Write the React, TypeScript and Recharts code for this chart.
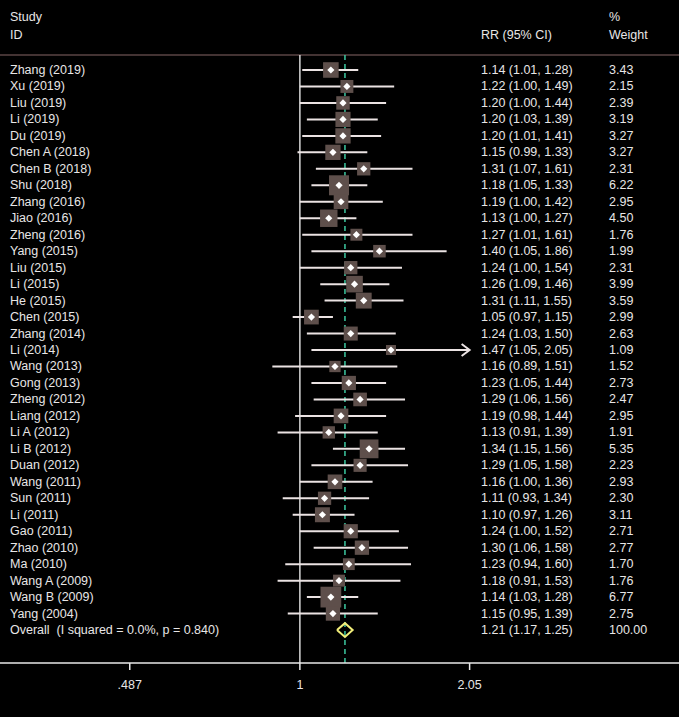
import React from "react";
import { ComposedChart, Scatter, XAxis, YAxis, ReferenceLine, ErrorBar } from "recharts";

const studies = [
  "Zhang (2019)", "Xu (2019)", "Liu (2019)", "Li (2019)", "Du (2019)", "Chen A (2018)",
  "Chen B (2018)", "Shu (2018)", "Zhang (2016)", "Jiao (2016)", "Zheng (2016)", "Yang (2015)",
  "Liu (2015)", "Li (2015)", "He (2015)", "Chen (2015)", "Zhang (2014)", "Li (2014)",
  "Wang (2013)", "Gong (2013)", "Zheng (2012)", "Liang (2012)", "Li A (2012)", "Li B (2012)",
  "Duan (2012)", "Wang (2011)", "Sun (2011)", "Li (2011)", "Gao (2011)", "Zhao (2010)",
  "Ma (2010)", "Wang A (2009)", "Wang B (2009)", "Yang (2004)",
];
const rr = [
  1.14, 1.22, 1.2, 1.2, 1.2, 1.15, 1.31, 1.18, 1.19, 1.13, 1.27, 1.4, 1.24, 1.26, 1.31, 1.05, 1.24,
  1.47, 1.16, 1.23, 1.29, 1.19, 1.13, 1.34, 1.29, 1.16, 1.11, 1.1, 1.24, 1.3, 1.23, 1.18, 1.14, 1.15,
];
const lower = [
  1.01, 1.0, 1.0, 1.03, 1.01, 0.99, 1.07, 1.05, 1.0, 1.0, 1.01, 1.05, 1.0, 1.09, 1.11, 0.97, 1.03,
  1.05, 0.89, 1.05, 1.06, 0.98, 0.91, 1.15, 1.05, 1.0, 0.93, 0.97, 1.0, 1.06, 0.94, 0.91, 1.03, 0.95,
];
const upper = [
  1.28, 1.49, 1.44, 1.39, 1.41, 1.33, 1.61, 1.33, 1.42, 1.27, 1.61, 1.86, 1.54, 1.46, 1.55, 1.15, 1.5,
  2.05, 1.51, 1.44, 1.56, 1.44, 1.39, 1.56, 1.58, 1.36, 1.34, 1.26, 1.52, 1.58, 1.6, 1.53, 1.28, 1.39,
];
const weights = [
  3.43, 2.15, 2.39, 3.19, 3.27, 3.27, 2.31, 6.22, 2.95, 4.5, 1.76, 1.99, 2.31, 3.99, 3.59, 2.99, 2.63,
  1.09, 1.52, 2.73, 2.47, 2.95, 1.91, 5.35, 2.23, 2.93, 2.3, 3.11, 2.71, 2.77, 1.7, 1.76, 6.77, 2.75,
];
const overall = { name: "Overall  (I squared = 0.0%, p = 0.840)", rr: 1.21, lo: 1.17, hi: 1.25, w: 100 };
const xTicks = [0.487, 1, 2.05];

const X_MIN = 0.2813;
const X_MAX = 4.97;
const Y_MIN = -0.91;
const Y_MAX = 36.0;
const TEXT = "#e8e6e6";
const FONT = "'Liberation Sans', Arial, sans-serif";
const FS = 12.5;

const rows = studies.map((name, i) => ({
  row: i,
  name,
  rr: rr[i],
  lo: lower[i],
  hi: upper[i],
  w: weights[i],
  err: [rr[i] - lower[i], upper[i] - rr[i]],
}));

// one text line per study plus the overall line
const textRows = [...rows, { row: studies.length, ...overall, err: [0, 0] }];

const clipped = rows.filter((d) => d.hi >= xTicks[2]).map((d) => ({ row: d.row, rr: d.hi }));

const diamond = [
  { row: studies.length, rr: overall.lo },
  { row: studies.length - 0.42, rr: overall.rr },
  { row: studies.length, rr: overall.hi },
  { row: studies.length + 0.42, rr: overall.rr },
  { row: studies.length, rr: overall.lo },
];

const fmt = (v: number) => v.toFixed(2);

const RowText = (props: any) => {
  const { cy, payload: d } = props;
  return (
    <g fill={TEXT} fontSize={FS} fontFamily={FONT}>
      <text x={10} y={cy} dominantBaseline="central" style={{ whiteSpace: "pre" }}>{d.name}</text>
      <text x={481} y={cy} dominantBaseline="central">
        {`${fmt(d.rr)} (${fmt(d.lo)}, ${fmt(d.hi)})`}
      </text>
      <text x={609} y={cy} dominantBaseline="central">{fmt(d.w)}</text>
    </g>
  );
};

// box area grows with the study weight
const Box = (props: any) => {
  const { cx, cy, payload } = props;
  const s = 2.8 + 6.9 * Math.sqrt(payload.w);
  return <rect x={cx - s / 2} y={cy - s / 2} width={s} height={s} fill="#5e4f4b" />;
};

const Point = (props: any) => {
  const { cx, cy } = props;
  const r = 3.6;
  return <polygon points={`${cx - r},${cy} ${cx},${cy - r} ${cx + r},${cy} ${cx},${cy + r}`} fill="#ffffff" />;
};

const Arrow = (props: any) => {
  const { cx, cy } = props;
  return (
    <polyline
      points={`${cx - 8},${cy - 6} ${cx},${cy} ${cx - 8},${cy + 6}`}
      fill="none"
      stroke="#ebe3e3"
      strokeWidth={2}
    />
  );
};

const Nothing = () => <g />;

const headStyle: React.CSSProperties = {
  position: "absolute",
  color: TEXT,
  fontFamily: FONT,
  fontSize: FS,
  lineHeight: "14px",
};

export default function App() {
  return (
    <div style={{ position: "relative", width: 679, height: 717, background: "#000" }}>
      <style>{"body{margin:0;background:#000}"}</style>
      <div style={{ ...headStyle, left: 10, top: 10 }}>Study</div>
      <div style={{ ...headStyle, left: 10, top: 28 }}>ID</div>
      <div style={{ ...headStyle, left: 481, top: 28 }}>RR (95% CI)</div>
      <div style={{ ...headStyle, left: 609, top: 10 }}>%</div>
      <div style={{ ...headStyle, left: 609, top: 28 }}>Weight</div>
      <ComposedChart width={679} height={717} margin={{ top: 55, right: 0, bottom: 24, left: 0 }}>
        <XAxis
          dataKey="rr"
          type="number"
          scale="log"
          domain={[X_MIN, X_MAX]}
          allowDataOverflow
          ticks={xTicks}
          interval={0}
          tickFormatter={(v: number) => (v < 1 ? String(v).replace(/^0/, "") : String(v))}
          axisLine={{ stroke: "#e8e8e8", strokeWidth: 1.5 }}
          tickLine={{ stroke: "#e8e8e8", strokeWidth: 1.5 }}
          tickSize={7}
          tickMargin={10}
          tick={{ fill: TEXT, fontSize: FS, fontFamily: FONT }}
          height={30}
        />
        <YAxis dataKey="row" type="number" domain={[Y_MIN, Y_MAX]} reversed allowDataOverflow hide />
        <ReferenceLine y={Y_MIN} stroke="#5a4444" strokeWidth={1.5} />
        <ReferenceLine x={1} stroke="#d8d8d8" strokeWidth={1.5} />
        <Scatter data={rows} shape={<Box />} isAnimationActive={false} />
        <ReferenceLine x={overall.rr} stroke="#3cc8a0" strokeWidth={1.5} strokeDasharray="5 4" />
        <Scatter data={rows} shape={<Point />} isAnimationActive={false}>
          <ErrorBar dataKey="err" direction="x" width={0} stroke="#ebe3e3" strokeWidth={2} isAnimationActive={false} />
        </Scatter>
        <Scatter data={clipped} shape={<Arrow />} isAnimationActive={false} />
        <Scatter
          data={diamond}
          line={{ stroke: "#f2ee7a", strokeWidth: 2 }}
          shape={<Nothing />}
          isAnimationActive={false}
        />
        <Scatter data={textRows} shape={<RowText />} isAnimationActive={false} />
      </ComposedChart>
    </div>
  );
}
